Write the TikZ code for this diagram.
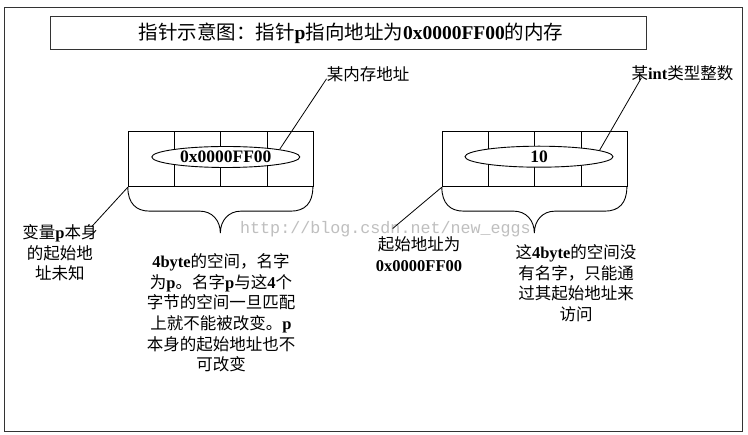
\documentclass[tikz,border=0pt]{standalone}
\usepackage{fontspec}
\setmainfont{Noto Sans CJK SC}
\newfontfamily\tnr{Liberation Serif}
\newfontfamily\cour{Liberation Mono}
\newcommand\B[1]{{\tnr\bfseries #1}}
\usetikzlibrary{shapes.geometric,calc}
\tikzset{
  frame/.style={draw=black!80, line width=0.9pt},
  membox/.style={draw, line width=0.9pt, minimum width=185pt, minimum height=55pt, inner sep=0pt},
  cell/.style={line width=0.9pt},
  val/.style={draw, ellipse, fill=white, line width=0.9pt, minimum width=148pt, minimum height=21pt, inner sep=0pt, font=\fontsize{17.5}{18}\selectfont},
  lbl/.style={inner sep=0pt, align=center, font=\fontsize{16.5}{20.6}\selectfont},
  conn/.style={line width=0.8pt},
  brace/.style={line width=0.9pt}
}
\begin{document}
\begin{tikzpicture}[x=1pt,y=-1pt]
\useasboundingbox (0,0) rectangle (748,435);
\fill[white] (0,0) rectangle (748,435);
% outer frame
\draw[frame] (4,7) rectangle (742,431);
% title
\draw[frame] (50,16) rectangle (646,49);
\node[inner sep=0pt, font=\fontsize{19.5}{20}\selectfont] (title) at (351,33) {指针示意图：指针\B{p}指向地址为\B{0x0000FF00}的内存};
% watermark
\node[inner sep=0pt, text=black!25, font=\cour\fontsize{16.7}{17}\selectfont] (wm) at (385.5,229) {http://blog.csdn.net/new\_eggs};
% memory boxes
\node[membox] (m1) at (220.8,159.2) {};
\node[membox] (m2) at (534.8,159.2) {};
\foreach \m in {m1,m2}{
  \foreach \f in {0.25,0.5,0.75}
    \draw[cell] ($(\m.north west)!\f!(\m.north east)$) -- ($(\m.south west)!\f!(\m.south east)$);
  \draw[brace] (\m.south west) .. controls +(0,16) and +(-14,0) .. ++(22,24) -- ++(50,0)
     .. controls +(12,0) and +(0,-13) .. ++(20.5,22)
     .. controls +(0,-13) and +(-12,0) .. ++(20.5,-22) -- ++(50,0)
     .. controls +(14,0) and +(0,16) .. ++(22,-24);
}
\node[val] (e1) at (225.8,157) {\B{0x0000FF00}};
\node[val] (e2) at (539,156.7) {\B{10}};
% labels
\node[lbl] (lab1) at (368,74) {某内存地址};
\node[lbl] (lab2) at (682.5,73) {某\B{int}类型整数};
\node[lbl] (lab3) at (60,253) {变量\B{p}本身\\的起始地\\址未知};
\node[lbl] (lab4) at (419,254) {起始地址为\\\B{0x0000FF00}};
\node[lbl] (txt1) at (221,313) {\B{4byte}的空间，名字\\为\B{p}。名字\B{p}与这\B{4}个\\字节的空间一旦匹配\\上就不能被改变。\B{p}\\本身的起始地址也不\\可改变};
\node[lbl] (txt2) at (576,283) {这\B{4byte}的空间没\\有名字，只能通\\过其起始地址来\\访问};
% connectors
\draw[conn] ([shift={(0,-3)}]lab1.south west) -- (e1.8);
\draw[conn] ([shift={(10,-3)}]lab2.south west) -- (e2.6);
\draw[conn] (m1.south west) -- ([shift={(-6,2)}]lab3.north east);
\draw[conn] (m2.south west) -- ([shift={(17,-8)}]lab4.north west);
\end{tikzpicture}
\end{document}
